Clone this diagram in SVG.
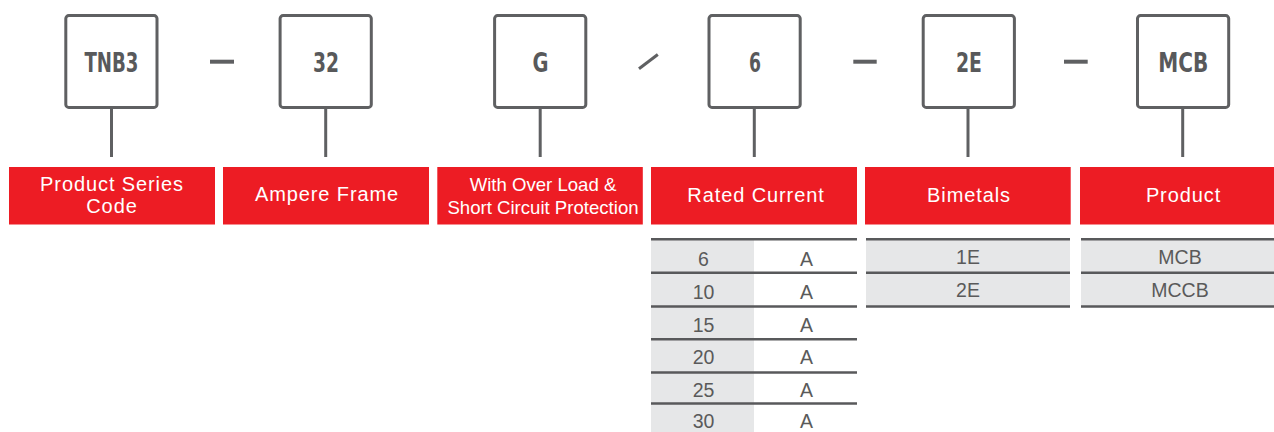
<svg xmlns="http://www.w3.org/2000/svg" width="1274" height="432" viewBox="0 0 1274 432">
<style>
.box{fill:#fff;stroke:#5f6062;stroke-width:3}
.code{font-family:"DejaVu Sans",sans-serif;font-weight:bold;font-size:27px;fill:#58595b;text-anchor:middle}
.bar{fill:#ed1c24}
.lbl{font-family:"Liberation Sans",Arial,sans-serif;font-size:20px;letter-spacing:0.9px;fill:#fff;text-anchor:middle}
.lbl2{font-family:"Liberation Sans",Arial,sans-serif;font-size:18.6px;fill:#fff;text-anchor:middle}
.cell{fill:#e6e7e8}
.rule{stroke:#58595b;stroke-width:2.4}
.val{font-family:"Liberation Sans",Arial,sans-serif;font-size:19.5px;fill:#5a5a5a;text-anchor:middle}
.conn{stroke:#5f6062;stroke-width:3;fill:none}
.sep{stroke:#5f6062;stroke-width:4;fill:none}
</style>
<rect width="1274" height="432" fill="#fff"/>
<g id="connectors">
<line class="conn" x1="111.5" y1="107" x2="111.5" y2="157"/>
<line class="conn" x1="325.7" y1="107" x2="325.7" y2="157"/>
<line class="conn" x1="540.2" y1="107" x2="540.2" y2="157"/>
<line class="conn" x1="754.3" y1="107" x2="754.3" y2="157"/>
<line class="conn" x1="968" y1="107" x2="968" y2="157"/>
<line class="conn" x1="1182.7" y1="107" x2="1182.7" y2="157"/>
<line class="sep" x1="210" y1="61.7" x2="234" y2="61.7"/>
<line class="sep" x1="853.3" y1="61.7" x2="876.7" y2="61.7"/>
<line class="sep" x1="1064" y1="61.7" x2="1087.7" y2="61.7"/>
<line class="conn" x1="639" y1="68.8" x2="657.8" y2="54.5"/>
</g>
<g id="node-tnb3">
<rect class="box" x="65.8" y="15.6" width="91.2" height="91.8" rx="3"/>
<text class="code" x="111.5" y="72" textLength="54" lengthAdjust="spacingAndGlyphs">TNB3</text>
<rect class="bar" x="9" y="167" width="206" height="57.5"/>
<text class="lbl" x="112" y="190.7">Product Series</text>
<text class="lbl" x="112" y="213.3">Code</text>
</g>
<g id="node-32">
<rect class="box" x="280.1" y="15.6" width="91.2" height="91.8" rx="3"/>
<text class="code" x="326" y="72" textLength="26" lengthAdjust="spacingAndGlyphs">32</text>
<rect class="bar" x="223" y="167" width="206" height="57.5"/>
<text class="lbl" x="327" y="201">Ampere Frame</text>
</g>
<g id="node-g">
<rect class="box" x="494.6" y="15.6" width="91.2" height="91.8" rx="3"/>
<text class="code" x="540.5" y="72" textLength="16" lengthAdjust="spacingAndGlyphs">G</text>
<rect class="bar" x="437.3" y="167" width="205.5" height="57.5"/>
<text class="lbl2" x="543" y="190.5">With Over Load &amp;</text>
<text class="lbl2" x="543" y="214">Short Circuit Protection</text>
</g>
<g id="node-6">
<rect class="box" x="709" y="15.6" width="91.2" height="91.8" rx="3"/>
<text class="code" x="755" y="72" textLength="12" lengthAdjust="spacingAndGlyphs">6</text>
<rect class="bar" x="651" y="167" width="206" height="57.5"/>
<text class="lbl" x="756" y="202">Rated Current</text>
<rect class="cell" x="651" y="239" width="103" height="193"/>
<g class="rule">
<line x1="651" y1="239.2" x2="857" y2="239.2"/>
<line x1="651" y1="272.8" x2="857" y2="272.8"/>
<line x1="651" y1="306.5" x2="857" y2="306.5"/>
<line x1="651" y1="339.2" x2="857" y2="339.2"/>
<line x1="651" y1="372.5" x2="857" y2="372.5"/>
<line x1="651" y1="403.5" x2="857" y2="403.5"/>
</g>
<text class="val" x="703.5" y="265.5">6</text><text class="val" x="806.5" y="265.5">A</text>
<text class="val" x="703.5" y="298.5">10</text><text class="val" x="806.5" y="298.5">A</text>
<text class="val" x="703.5" y="331.5">15</text><text class="val" x="806.5" y="331.5">A</text>
<text class="val" x="703.5" y="364">20</text><text class="val" x="806.5" y="364">A</text>
<text class="val" x="703.5" y="396.5">25</text><text class="val" x="806.5" y="396.5">A</text>
<text class="val" x="703.5" y="427.5">30</text><text class="val" x="806.5" y="427.5">A</text>
</g>
<g id="node-2e">
<rect class="box" x="923.2" y="15.6" width="91.2" height="91.8" rx="3"/>
<text class="code" x="969" y="72" textLength="26" lengthAdjust="spacingAndGlyphs">2E</text>
<rect class="bar" x="865" y="167" width="205.7" height="57.5"/>
<text class="lbl" x="969" y="202">Bimetals</text>
<rect class="cell" x="866" y="239" width="204" height="67"/>
<g class="rule">
<line x1="866" y1="239.2" x2="1070" y2="239.2"/>
<line x1="866" y1="272.8" x2="1070" y2="272.8"/>
<line x1="866" y1="306.5" x2="1070" y2="306.5"/>
</g>
<text class="val" x="968" y="263.5">1E</text>
<text class="val" x="968" y="297">2E</text>
</g>
<g id="node-mcb">
<rect class="box" x="1137.5" y="15.6" width="91.2" height="91.8" rx="3"/>
<text class="code" x="1183.3" y="72" textLength="50" lengthAdjust="spacingAndGlyphs">MCB</text>
<rect class="bar" x="1080" y="167" width="194" height="57.5"/>
<text class="lbl" x="1183.5" y="202">Product</text>
<rect class="cell" x="1081" y="239" width="193" height="67"/>
<g class="rule">
<line x1="1081" y1="239.2" x2="1274" y2="239.2"/>
<line x1="1081" y1="272.8" x2="1274" y2="272.8"/>
<line x1="1081" y1="306.5" x2="1274" y2="306.5"/>
</g>
<text class="val" x="1180" y="263.5">MCB</text>
<text class="val" x="1180" y="297">MCCB</text>
</g>
</svg>
